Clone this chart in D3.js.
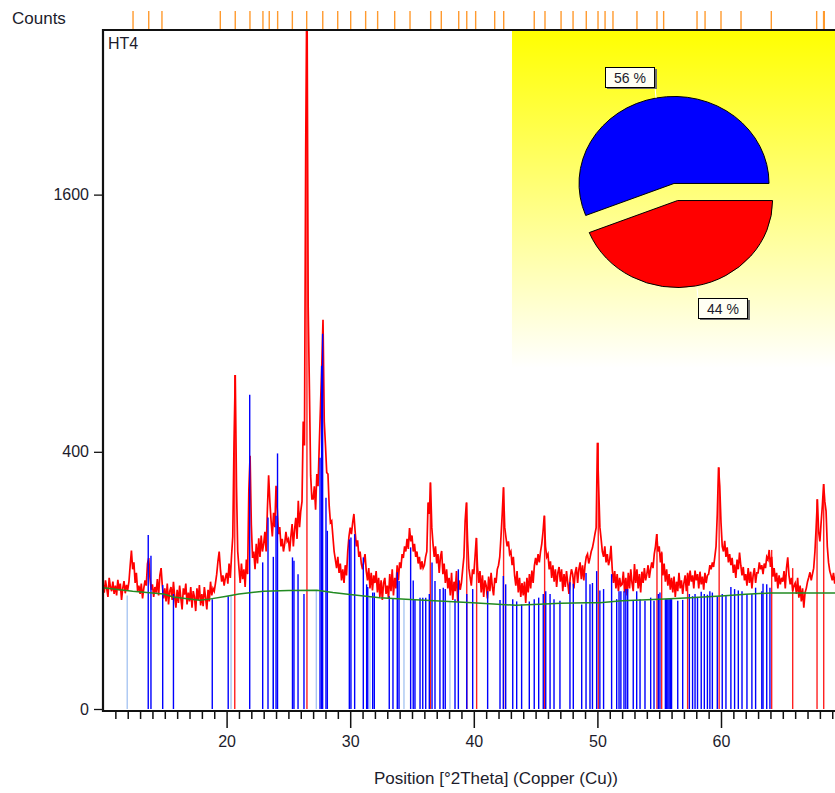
<!DOCTYPE html>
<html>
<head>
<meta charset="utf-8">
<script src="https://cdn.jsdelivr.net/npm/d3@7"></script>
<style>
  html, body { margin: 0; padding: 0; background: #fff; }
  svg { display: block; font-family: "Liberation Sans", Arial, sans-serif; }
</style>
</head>
<body>
<svg id="chart" width="835" height="793"></svg>
<script>
// ---- measured scan (counts every 0.1 deg 2Theta, starting at 10.0) ----
const scanStart = 10.0;
const scanStep = 0.1;
const scanCounts = [
  95, 82, 100, 88, 76, 104, 90, 84, 98, 80,
  92, 78, 101, 85, 95, 72, 88, 99, 81, 93,
  86, 98, 125, 152, 118, 130, 96, 112, 84, 92,
  80, 95, 74, 88, 100, 92, 128, 138, 104, 86,
  94, 76, 90, 82, 102, 78, 108, 120, 92, 74,
  88, 70, 95, 66, 84, 90, 72, 98, 76, 62,
  86, 68, 92, 74, 60, 88, 79, 95, 66, 82,
  70, 90, 62, 84, 76, 58, 88, 72, 93, 65,
  80, 64, 90, 75, 60, 86, 70, 98, 78, 88,
  84, 96, 110, 132, 150, 118, 98, 108, 92, 104,
  112, 95, 128, 104, 142, 180, 430, 675, 300, 150,
  120, 96, 128, 102, 118, 90, 135, 110, 290, 388,
  205, 138, 150, 118, 165, 128, 176, 140, 182, 150,
  165, 190, 150, 240, 330, 260, 214, 180, 233, 200,
  301, 240, 185, 200, 160, 175, 150, 165, 190, 170,
  175, 150, 180, 207, 160, 195, 221, 175, 262, 200,
  237, 260, 500, 420, 1890, 3300, 980, 620, 330, 267,
  267, 300, 240, 334, 300, 425, 560, 711, 916, 500,
  420, 338, 334, 250, 210, 214, 180, 150, 135, 120,
  140, 112, 128, 100, 118, 96, 125, 108, 150, 180,
  199, 185, 210, 230, 190, 160, 172, 140, 150, 128,
  118, 132, 145, 115, 100, 120, 88, 112, 85, 108,
  96, 115, 82, 104, 76, 100, 72, 96, 104, 80,
  92, 74, 110, 84, 118, 78, 104, 88, 125, 100,
  130, 120, 145, 138, 160, 150, 175, 155, 198, 170,
  182, 150, 165, 140, 150, 128, 140, 118, 132, 120,
  125, 140, 150, 258, 230, 310, 200, 165, 140, 160,
  128, 145, 112, 140, 151, 110, 128, 96, 118, 88,
  104, 78, 112, 72, 98, 84, 115, 70, 100, 86,
  96, 118, 140, 214, 258, 170, 120, 105, 92, 118,
  110, 140, 177, 122, 96, 115, 82, 108, 76, 100,
  92, 74, 106, 84, 112, 90, 78, 104, 96, 118,
  125, 140, 180, 230, 297, 200, 178, 160, 170, 145,
  150, 125, 140, 108, 92, 115, 82, 104, 76, 96,
  78, 98, 68, 104, 82, 110, 88, 116, 96, 124,
  138, 125, 145, 130, 150, 165, 190, 226, 160, 140,
  145, 118, 132, 104, 125, 98, 118, 90, 112, 122,
  98, 118, 84, 110, 90, 115, 96, 80, 104, 118,
  110, 88, 112, 122, 96, 118, 130, 102, 125, 100,
  125, 140, 145, 128, 138, 150, 157, 170, 185, 199,
  429, 300, 200, 175, 150, 140, 160, 130, 145, 125,
  135, 161, 118, 96, 115, 88, 110, 84, 104, 92,
  94, 114, 82, 104, 78, 112, 88, 118, 96, 84,
  127, 96, 118, 88, 110, 82, 114, 96, 120, 100,
  110, 125, 104, 118, 130, 120, 145, 160, 185, 150,
  160, 130, 148, 108, 128, 98, 118, 92, 110, 86,
  104, 82, 106, 76, 98, 84, 112, 88, 100, 80,
  96, 108, 84, 112, 92, 116, 98, 108, 88, 116,
  100, 110, 88, 114, 94, 106, 86, 112, 96, 108,
  110, 125, 118, 130, 122, 140, 160, 230, 353, 300,
  210, 160, 150, 171, 140, 158, 130, 145, 125, 138,
  112, 126, 104, 135, 118, 148, 125, 108, 122, 100,
  110, 92, 120, 96, 114, 88, 108, 120, 96, 112,
  112, 130, 118, 125, 110, 128, 120, 140, 135, 153,
  122, 140, 106, 120, 98, 112, 88, 108, 94, 104,
  98, 115, 88, 120, 139, 108, 94, 104, 84, 92,
  96, 80, 104, 75, 92, 70, 88, 62, 82, 88,
  98, 105, 113, 100, 110, 120, 150, 200, 266, 190,
  170, 210, 250, 306, 260, 237, 160, 130, 115, 108,
  100, 112, 95, 108, 90, 104, 98, 110, 100, 105
];

// ---- fitted background ----
const bgPos    = [10, 12.4, 14.9, 15.7, 17.8, 18.6, 20, 21, 23, 25, 27.3, 28.6, 29.8, 32.4, 34.5, 37.2, 39.9, 43.4, 45.3, 47, 49.2, 50.2, 52, 55, 57.5, 60, 62, 64, 66, 70];
const bgCounts = [89, 84, 80, 76, 71.5, 73, 77, 80, 84, 85, 85.3, 82, 79.7, 75, 73, 70.6, 68.4, 65.1, 66.3, 67.5, 68.4, 68.4, 71, 73, 75, 77.3, 79.5, 81.5, 81.5, 81.5];

// ---- reference pattern 1 (blue sticks) ----
const ref1Pos = [13.66, 13.88, 14.83, 15.70, 18.84, 20.13, 21.87, 22.92, 23.35, 23.78,
  24.0, 24.12, 25.33, 25.45, 25.78, 26.26, 27.56, 27.69, 27.77, 28.04,
  28.15, 29.93, 30.06, 30.36, 31.06, 31.33, 31.42, 31.82, 31.95, 33.16,
  33.46, 33.81, 33.95, 34.89, 35.1, 35.24, 35.65, 35.87, 36.11, 36.40,
  36.62, 36.86, 37.26, 37.53, 37.69, 38.48, 38.75, 39.43, 39.91, 41.12,
  42.12, 42.39, 42.58, 43.15, 43.47, 43.87, 44.49, 44.89, 45.25, 45.62,
  45.82, 46.17, 46.49, 46.97, 47.78, 48.05, 48.73, 49.08, 49.4, 49.6,
  49.94, 50.2, 50.5, 51.15, 51.56, 51.75, 51.9, 52.15, 52.3, 52.45,
  52.9, 53.18, 53.45, 53.85, 54.31, 54.58, 54.93, 55.06, 55.5, 55.6,
  55.7, 55.8, 55.9, 56.0, 56.5, 56.9, 57.44, 57.7, 57.9, 58.1,
  58.4, 58.65, 58.9, 59.1, 59.3, 59.7, 60.1, 60.4, 60.8, 61.1,
  61.4, 61.7, 62.1, 62.5, 62.8, 63.3, 63.4, 63.7, 63.96];
const ref1Counts = [183, 142, 93, 80, 73, 77, 597, 130, 222, 140,
  226, 395, 139, 133, 110, 80, 382, 712, 851, 270,
  192, 174, 178, 185, 139, 94, 90, 82, 82, 77,
  74, 113, 99, 158, 100, 73, 75, 75, 75, 80,
  130, 99, 87, 89, 87, 73, 118, 80, 87, 84,
  72, 107, 94, 73, 70, 66, 70, 73, 75, 80,
  84, 80, 73, 71, 97, 95, 66, 112, 94, 96,
  115, 85, 87, 110, 73, 84, 84, 84, 87, 87,
  71, 84, 73, 71, 75, 71, 80, 82, 73, 73,
  73, 73, 73, 73, 71, 72, 80, 77, 80, 76,
  83, 80, 79, 84, 82, 76, 80, 78, 90, 87,
  85, 84, 80, 80, 89, 84, 95, 94, 89];

// ---- weak lines of reference pattern 1 (light blue) ----
const ref1WeakPos    = [11.96, 20.36, 23.73, 27.26, 31.6, 34.35, 38.07];
const ref1WeakCounts = [78, 78, 84, 85, 76, 72, 70];

// ---- reference pattern 2 (red sticks) ----
const ref2Pos    = [20.66, 26.5, 36.48, 39.43, 40.23, 42.41, 45.73, 50.07, 54.82, 55.2, 57.3, 59.85, 64.1, 65.8, 67.77, 68.31];
const ref2Counts = [675, 3300, 310, 258, 177, 297, 226, 429, 185, 150, 110, 353, 153, 120, 266, 306];

// ---- peak list markers ----
const peakPos = [12.43, 13.70, 14.77, 19.49, 20.70, 21.89, 22.94, 23.45, 24.13, 25.32,
  26.48, 27.78, 28.99, 30.04, 31.25, 32.22, 33.60, 34.84, 36.51, 37.37,
  38.78, 39.43, 40.15, 41.69, 42.42, 44.89, 45.76, 47.06, 48.03, 49.10,
  50.05, 50.62, 51.26, 53.20, 54.82, 55.36, 58.06, 58.71, 60.00, 61.62,
  64.07, 67.74, 68.30, 68.36];

// ---- axes ----
const xMajorTicks = [20, 30, 40, 50, 60];
const yTicks = [0, 400, 1600];

// ---- phase quantification ----
const phaseShares = [44, 56];
const phaseColors = ["#ff0000", "#0000ff"];
const phaseLabels = ["44 %", "56 %"];

const svg = d3.select("#chart");
const W = 835, H = 793;
const plot = { left: 103, top: 30, bottom: 711 };
const textColor = "#1c1c2c";

const x = d3.scaleLinear().domain([10, 70]).range([103, 844.6]);
const y = d3.scaleSqrt().domain([0, 2788]).range([709, 30]);

svg.append("rect").attr("width", W).attr("height", H).attr("fill", "#fff");

const defs = svg.append("defs");
defs.append("clipPath").attr("id", "plotClip")
  .append("rect").attr("x", plot.left).attr("y", plot.top).attr("width", W - plot.left).attr("height", plot.bottom - plot.top);

const grad = defs.append("linearGradient").attr("id", "paneFill")
  .attr("x1", 0).attr("y1", 0).attr("x2", 0).attr("y2", 1);
grad.append("stop").attr("offset", "0%").attr("stop-color", "#ffff00");
grad.append("stop").attr("offset", "100%").attr("stop-color", "#ffffff");

const g = svg.append("g").attr("clip-path", "url(#plotClip)");

// quantification pane
g.append("rect").attr("x", 512).attr("y", 30).attr("width", W - 512).attr("height", 338)
  .attr("fill", "url(#paneFill)");

// sticks helper
function sticks(pos, counts, color, width) {
  g.append("g").selectAll("line").data(d3.zip(pos, counts)).join("line")
    .attr("x1", d => x(d[0])).attr("x2", d => x(d[0]))
    .attr("y1", y(0)).attr("y2", d => y(d[1]))
    .attr("stroke", color).attr("stroke-width", width);
}

sticks(ref1WeakPos, ref1WeakCounts, "#aac6f2", 1.4);
sticks(ref2Pos, ref2Counts, "#ff2020", 1.4);

// measured scan
const scan = scanCounts.map((c, i) => [scanStart + i * scanStep, c]);
g.append("path").datum(scan)
  .attr("fill", "none").attr("stroke", "#ff0000").attr("stroke-width", 1.7)
  .attr("stroke-linejoin", "miter")
  .attr("d", d3.line().x(d => x(d[0])).y(d => y(d[1])));

sticks(ref1Pos, ref1Counts, "#0000ff", 1.4);

// background
g.append("path").datum(d3.zip(bgPos, bgCounts))
  .attr("fill", "none").attr("stroke", "#228b22").attr("stroke-width", 1.5)
  .attr("d", d3.line().x(d => x(d[0])).y(d => y(d[1])));

// peak list markers above the frame
svg.append("g").selectAll("line").data(peakPos).join("line")
  .attr("x1", d => x(d)).attr("x2", d => x(d))
  .attr("y1", 11).attr("y2", 30)
  .attr("stroke", "#ff9a2e").attr("stroke-width", 1.4);

// frame: top border
svg.append("line").attr("x1", plot.left - 1).attr("x2", W).attr("y1", 30).attr("y2", 30)
  .attr("stroke", "#111").attr("stroke-width", 2);

// x axis
const xAxisMinor = d3.axisBottom(x)
  .tickValues(d3.range(11, 70).filter(v => v % 10 !== 0))
  .tickSize(8).tickFormat("");
const xAxisMajor = d3.axisBottom(x)
  .tickValues(xMajorTicks).tickSize(17).tickPadding(8).tickFormat(d3.format("d"));
const gxm = svg.append("g").attr("transform", `translate(0,${plot.bottom})`).call(xAxisMinor);
const gxM = svg.append("g").attr("transform", `translate(0,${plot.bottom})`).call(xAxisMajor);
[gxm, gxM].forEach(a => {
  a.select(".domain").remove();
  a.selectAll(".tick line").attr("stroke", "#111").attr("stroke-width", 1.5);
});
gxM.selectAll(".tick text").attr("fill", textColor).style("font-size", "16px")
  .style("font-family", '"Liberation Sans", Arial, sans-serif');
svg.append("line").attr("x1", plot.left - 1).attr("x2", W).attr("y1", plot.bottom).attr("y2", plot.bottom)
  .attr("stroke", "#111").attr("stroke-width", 2);

// y axis
const yAxis = d3.axisLeft(y).tickValues(yTicks).tickSize(9).tickPadding(5).tickFormat(d3.format("d"));
const gy = svg.append("g").attr("transform", `translate(${plot.left},0)`).call(yAxis);
gy.select(".domain").remove();
gy.selectAll(".tick line").attr("stroke", "#111").attr("stroke-width", 1.3);
gy.selectAll(".tick text").attr("fill", textColor).style("font-size", "16px")
  .style("font-family", '"Liberation Sans", Arial, sans-serif');
svg.append("line").attr("x1", plot.left).attr("x2", plot.left).attr("y1", 29).attr("y2", plot.bottom + 1)
  .attr("stroke", "#111").attr("stroke-width", 2.2);

// titles
svg.append("text").attr("x", 12).attr("y", 24).attr("fill", textColor)
  .style("font-size", "17px").text("Counts");
svg.append("text").attr("x", 108).attr("y", 49).attr("fill", textColor)
  .style("font-size", "16px").text("HT4");
svg.append("text").attr("x", 496).attr("y", 784).attr("text-anchor", "middle").attr("fill", textColor)
  .style("font-size", "17px").text("Position [°2Theta] (Copper (Cu))");

// phase pie (elliptical, slices pulled apart)
const pieC = { x: 675.8, y: 192 }, rx = 95, ry = 87, explode = 9.5;
const pie = d3.pie().sort(null).startAngle(Math.PI / 2).endAngle(Math.PI / 2 + 2 * Math.PI)(phaseShares);
const arc = d3.arc().innerRadius(0).outerRadius(rx);
const pieG = svg.append("g").attr("transform", `translate(${pieC.x},${pieC.y}) scale(1,${ry / rx})`);
pieG.selectAll("path").data(pie).join("path")
  .attr("transform", d => {
    const m = (d.startAngle + d.endAngle) / 2;
    return `translate(${explode * Math.sin(m)},${-explode * Math.cos(m)})`;
  })
  .attr("d", arc)
  .attr("fill", (d, i) => phaseColors[i])
  .attr("stroke", "#000").attr("stroke-width", 1)
  .attr("vector-effect", "non-scaling-stroke");

// pie labels
const labelBoxes = [
  { i: 0, x: 698, y: 298, lx1: 697, ly1: 288, lx2: 698, ly2: 298 },
  { i: 1, x: 605, y: 67, lx1: 656, ly1: 98, lx2: 655, ly2: 87 }
];
labelBoxes.forEach(b => {
  svg.append("line").attr("x1", b.lx1).attr("y1", b.ly1).attr("x2", b.lx2).attr("y2", b.ly2)
    .attr("stroke", "#fff").attr("stroke-width", 1);
  svg.append("rect").attr("x", b.x + 2).attr("y", b.y + 2).attr("width", 50).attr("height", 20)
    .attr("fill", "#6e6e6e");
  svg.append("rect").attr("x", b.x + 0.5).attr("y", b.y + 0.5).attr("width", 49).attr("height", 20)
    .attr("fill", "#fffff4").attr("stroke", "#000").attr("stroke-width", 1);
  svg.append("text").attr("x", b.x + 25).attr("y", b.y + 15.5).attr("text-anchor", "middle")
    .attr("fill", textColor).style("font-size", "14px").text(phaseLabels[b.i]);
});
</script>
</body>
</html>
